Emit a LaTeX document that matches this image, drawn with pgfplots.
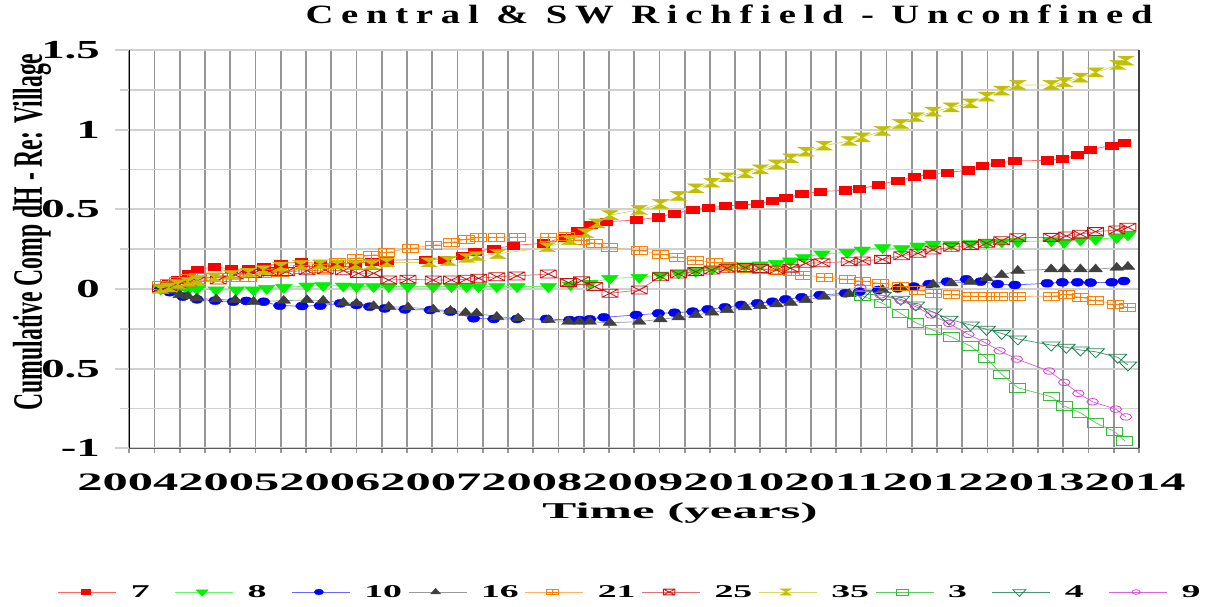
\documentclass[border=0pt]{standalone}
\usepackage{pgfplots}
\pgfplotsset{compat=1.18}
\usepackage{fontspec}
\setmainfont{Liberation Serif}
\usepackage{graphicx}

\definecolor{c7}{HTML}{FF0000}
\definecolor{c8}{HTML}{00F000}
\definecolor{c10}{HTML}{0000FF}
\definecolor{c16}{HTML}{404040}
\definecolor{c21}{HTML}{FF8000}
\definecolor{c25}{HTML}{C81414}
\definecolor{c35}{HTML}{C0C000}
\definecolor{c3}{HTML}{33C033}
\definecolor{c4}{HTML}{1E8050}
\definecolor{c9}{HTML}{D040D0}
\definecolor{hgridcol}{HTML}{D0D0D0}
\definecolor{vgridcol}{HTML}{969696}

\pgfdeclareplotmark{hourglass}{%
  \pgfpathmoveto{\pgfqpoint{-\pgfplotmarksize}{\pgfplotmarksize}}%
  \pgfpathlineto{\pgfqpoint{\pgfplotmarksize}{\pgfplotmarksize}}%
  \pgfpathlineto{\pgfqpoint{-\pgfplotmarksize}{-\pgfplotmarksize}}%
  \pgfpathlineto{\pgfqpoint{\pgfplotmarksize}{-\pgfplotmarksize}}%
  \pgfpathclose
  \pgfusepathqfillstroke}
\pgfdeclareplotmark{boxplus}{%
  \pgfpathrectangle{\pgfqpoint{-\pgfplotmarksize}{-\pgfplotmarksize}}{\pgfqpoint{2\pgfplotmarksize}{2\pgfplotmarksize}}%
  \pgfpathmoveto{\pgfqpoint{-\pgfplotmarksize}{0pt}}\pgfpathlineto{\pgfqpoint{\pgfplotmarksize}{0pt}}%
  \pgfpathmoveto{\pgfqpoint{0pt}{-\pgfplotmarksize}}\pgfpathlineto{\pgfqpoint{0pt}{\pgfplotmarksize}}%
  \pgfusepathqstroke}
\pgfdeclareplotmark{boxtimes}{%
  \pgfpathrectangle{\pgfqpoint{-\pgfplotmarksize}{-\pgfplotmarksize}}{\pgfqpoint{2\pgfplotmarksize}{2\pgfplotmarksize}}%
  \pgfpathmoveto{\pgfqpoint{-\pgfplotmarksize}{-\pgfplotmarksize}}\pgfpathlineto{\pgfqpoint{\pgfplotmarksize}{\pgfplotmarksize}}%
  \pgfpathmoveto{\pgfqpoint{-\pgfplotmarksize}{\pgfplotmarksize}}\pgfpathlineto{\pgfqpoint{\pgfplotmarksize}{-\pgfplotmarksize}}%
  \pgfusepathqstroke}

\newcommand\ylab[1]{\scalebox{1.8}[1]{\fontsize{26}{26}\selectfont\bfseries #1}\hspace*{24.3pt}}
\newcommand\lgd[1]{\scalebox{2.1}[1]{\fontsize{18}{18}\selectfont\bfseries #1}}
\newcommand\xlab{\resizebox{1108pt}{16.7pt}{\bfseries 20042005200620072008200920102011201220132014}}

\begin{document}
\begin{tikzpicture}
% vertical grid (every quarter year) with tick marks below the axis
\foreach \k in {0,...,40} {
  \pgfmathsetmacro{\gx}{129.3+\k*25.2425}
  \draw[draw=vgridcol, line width=1.8pt] (\gx pt,152.7pt) -- (\gx pt,556pt);
}
\begin{axis}[
  at={(129.3pt,157.7pt)}, anchor=south west,
  width=1009.7pt, height=398.3pt, scale only axis,
  xmin=2004, xmax=2014, ymin=-1, ymax=1.5,
  clip=false,
  xtick={2004,2004.25,2004.5,2004.75,2005,2005.25,2005.5,2005.75,2006,2006.25,2006.5,2006.75,2007,2007.25,2007.5,2007.75,2008,2008.25,2008.5,2008.75,2009,2009.25,2009.5,2009.75,2010,2010.25,2010.5,2010.75,2011,2011.25,2011.5,2011.75,2012,2012.25,2012.5,2012.75,2013,2013.25,2013.5,2013.75,2014},
  xticklabels={{},{},{},{},{},{},{},{},{},{},{},{},{},{},{},{},{},{},{},{},\xlab,{},{},{},{},{},{},{},{},{},{},{},{},{},{},{},{},{},{},{},{}},
  xticklabel style={anchor=north, inner sep=0pt, yshift=-20.7pt, xshift=-2.7pt},
  ytick={-1,-0.5,0,0.5,1,1.5},
  yticklabels={\ylab{-1},\ylab{-0.5},\ylab{0},\ylab{0.5},\ylab{1},\ylab{1.5}},
  minor ytick={-0.75,-0.25,0.25,0.75,1.25},
  yticklabel style={anchor=east, inner sep=0pt},
  tick align=outside, major tick length=5pt,
  every tick/.style={draw=none},
  ymajorgrids, yminorgrids,
  every minor grid/.style={draw=hgridcol, line width=1.8pt},
  every major y grid/.style={draw=hgridcol, line width=1.8pt},
  axis line style={draw=none},
  title={\resizebox{847pt}{18.6pt}{\bfseries\addfontfeature{LetterSpace=20}Central \& SW Richfield - Unconfined}},
  title style={at={(axis description cs:0.594,1.0515)}, anchor=base, inner sep=0pt},
  xlabel={\resizebox{275pt}{15.7pt}{\bfseries Time (years)}},
  xlabel style={at={(axis description cs:0.5454,-0.1757)}, anchor=base, inner sep=0pt},
  ylabel={\resizebox{357pt}{29pt}{\bfseries Cumulative Comp dH - Re: Village}},
  ylabel style={at={(axis description cs:-0.0865,0.543)}, anchor=base, inner sep=0pt},
  legend columns=10,
  legend cell align=left,
  legend style={at={(axis description cs:-0.0706,-0.3608)}, anchor=west, draw=none, fill=none,
    inner sep=0pt, outer sep=0pt,
    nodes={inner sep=0pt, text width=44pt, align=left},
    /tikz/every odd column/.append style={column sep=14pt},
    /tikz/every even column/.append style={column sep=0pt}},
  legend image code/.code={
    \draw[#1, mark=none] (0pt,0pt) -- (58pt,0pt);
    \draw[#1, /tikz/every mark/.append style={scale=0.72}] plot coordinates {(27pt,0pt)};
  },
]

% 7
\addplot[color=c7!60!white, line width=0.75pt, mark=square*, mark size=3.6pt,
  mark options={draw=c7, fill=c7, xscale=1.7, line width=0.4pt}] coordinates {
(2004.31,0.01)(2004.39,0.03)(2004.48,0.06)(2004.58,0.095)(2004.67,0.12)(2004.84,0.14)(2005.01,0.124)(2005.18,0.124)(2005.33,0.142)(2005.50,0.161)(2005.70,0.168)(2005.89,0.161)(2006.06,0.157)(2006.24,0.161)(2006.40,0.171)(2006.55,0.18)(2006.93,0.186)(2007.12,0.186)(2007.30,0.21)(2007.42,0.234)(2007.61,0.252)(2007.80,0.273)(2008.10,0.287)(2008.31,0.324)(2008.44,0.366)(2008.57,0.402)(2008.72,0.422)(2009.02,0.433)(2009.24,0.45)(2009.40,0.475)(2009.58,0.496)(2009.73,0.508)(2009.90,0.521)(2010.06,0.527)(2010.22,0.534)(2010.37,0.554)(2010.50,0.571)(2010.66,0.596)(2010.84,0.611)(2011.09,0.62)(2011.23,0.628)(2011.42,0.653)(2011.61,0.682)(2011.77,0.703)(2011.92,0.72)(2012.10,0.732)(2012.31,0.745)(2012.45,0.774)(2012.60,0.791)(2012.77,0.803)(2013.09,0.808)(2013.24,0.816)(2013.39,0.843)(2013.52,0.876)(2013.73,0.9)(2013.85,0.918)};
\addlegendentry{\lgd{7}}

% 8
\addplot[color=c8!60!white, line width=0.75pt, mark=triangle*, mark size=6pt,
  mark options={rotate=180, draw=c8, fill=c8, xscale=1.6, line width=0.4pt}] coordinates {
(2004.31,0.0)(2004.39,0.0)(2004.48,-0.005)(2004.58,-0.005)(2004.67,0.0)(2004.86,-0.006)(2005.06,-0.006)(2005.23,-0.006)(2005.36,0.004)(2005.53,0.01)(2005.76,0.019)(2005.92,0.021)(2006.12,0.019)(2006.25,0.015)(2006.42,0.015)(2006.57,0.015)(2006.76,0.015)(2007.01,0.015)(2007.19,0.015)(2007.34,0.015)(2007.46,0.015)(2007.64,0.015)(2007.84,0.015)(2008.15,0.015)(2008.37,0.025)(2008.56,0.036)(2008.76,0.067)(2009.05,0.073)(2009.26,0.088)(2009.44,0.1)(2009.61,0.11)(2009.77,0.125)(2009.94,0.14)(2010.10,0.145)(2010.25,0.151)(2010.41,0.161)(2010.55,0.176)(2010.68,0.199)(2010.86,0.22)(2011.11,0.23)(2011.26,0.245)(2011.46,0.26)(2011.65,0.253)(2011.81,0.27)(2011.96,0.282)(2012.14,0.28)(2012.33,0.285)(2012.49,0.29)(2012.64,0.295)(2012.80,0.297)(2013.13,0.303)(2013.26,0.293)(2013.42,0.307)(2013.57,0.312)(2013.78,0.322)(2013.89,0.339)};
\addlegendentry{\lgd{8}}

% 10
\addplot[color=c10!60!white, line width=0.75pt, mark=*, mark size=4pt,
  mark options={draw=c10, fill=c10, xscale=1.6, line width=0.4pt}] coordinates {
(2004.31,0.0)(2004.40,-0.02)(2004.53,-0.048)(2004.67,-0.065)(2004.85,-0.073)(2005.03,-0.08)(2005.16,-0.075)(2005.33,-0.08)(2005.49,-0.105)(2005.71,-0.107)(2005.89,-0.105)(2006.09,-0.09)(2006.25,-0.1)(2006.38,-0.111)(2006.53,-0.122)(2006.73,-0.128)(2006.98,-0.132)(2007.18,-0.142)(2007.41,-0.184)(2007.61,-0.188)(2007.84,-0.188)(2008.13,-0.188)(2008.36,-0.195)(2008.46,-0.195)(2008.56,-0.19)(2008.70,-0.178)(2009.02,-0.163)(2009.24,-0.153)(2009.40,-0.149)(2009.58,-0.142)(2009.73,-0.128)(2009.90,-0.115)(2010.06,-0.1)(2010.22,-0.09)(2010.37,-0.08)(2010.50,-0.065)(2010.66,-0.052)(2010.84,-0.038)(2011.09,-0.027)(2011.23,-0.017)(2011.42,-0.006)(2011.61,0.004)(2011.77,0.015)(2011.92,0.031)(2012.10,0.046)(2012.29,0.061)(2012.43,0.046)(2012.60,0.031)(2012.77,0.025)(2013.09,0.036)(2013.24,0.042)(2013.39,0.042)(2013.52,0.04)(2013.73,0.042)(2013.85,0.05)};
\addlegendentry{\lgd{10}}

% 16
\addplot[color=gray!80!white, line width=0.75pt, mark=triangle*, mark size=5.3pt,
  mark options={draw=c16, fill=c16, xscale=1.5, line width=0.4pt}] coordinates {
(2004.31,0.0)(2004.39,-0.012)(2004.50,-0.038)(2004.58,-0.045)(2004.67,-0.059)(2004.86,-0.065)(2005.05,-0.069)(2005.23,-0.08)(2005.53,-0.073)(2005.76,-0.069)(2005.92,-0.073)(2006.12,-0.086)(2006.25,-0.09)(2006.42,-0.107)(2006.57,-0.111)(2006.76,-0.115)(2007.01,-0.128)(2007.18,-0.136)(2007.33,-0.149)(2007.44,-0.153)(2007.64,-0.174)(2007.85,-0.184)(2008.15,-0.195)(2008.35,-0.205)(2008.46,-0.205)(2008.56,-0.205)(2008.76,-0.212)(2009.05,-0.205)(2009.26,-0.19)(2009.44,-0.178)(2009.61,-0.163)(2009.77,-0.147)(2009.92,-0.132)(2010.10,-0.115)(2010.25,-0.107)(2010.41,-0.096)(2010.55,-0.086)(2010.70,-0.069)(2010.88,-0.048)(2011.13,-0.031)(2011.46,-0.006)(2011.64,0.01)(2011.96,0.028)(2012.14,0.036)(2012.33,0.046)(2012.49,0.067)(2012.64,0.088)(2012.80,0.115)(2013.13,0.124)(2013.26,0.124)(2013.42,0.124)(2013.57,0.124)(2013.78,0.134)(2013.89,0.14)};
\addlegendentry{\lgd{16}}

% 21
\addplot[color=c21!60!white, line width=0.75pt, mark=boxplus, mark size=4pt,
  mark options={draw=c21, xscale=2, line width=0.8pt}] coordinates {
(2004.31,0.02)(2004.39,0.035)(2004.48,0.05)(2004.58,0.065)(2004.67,0.07)(2004.84,0.07)(2005.01,0.07)(2005.18,0.075)(2005.33,0.098)(2005.50,0.105)(2005.70,0.124)(2005.89,0.13)(2006.06,0.165)(2006.24,0.193)(2006.40,0.213)(2006.55,0.23)(2006.78,0.255)(2007.01,0.276)(2007.19,0.293)(2007.34,0.312)(2007.46,0.322)(2007.64,0.324)(2007.84,0.324)(2008.15,0.324)(2008.33,0.328)(2008.48,0.307)(2008.61,0.287)(2008.75,0.262)(2009.05,0.241)(2009.26,0.22)(2009.43,0.199)(2009.61,0.182)(2009.79,0.165)(2009.94,0.14)(2010.10,0.13)(2010.25,0.124)(2010.43,0.115)(2010.56,0.109)(2010.68,0.088)(2010.88,0.073)(2011.11,0.061)(2011.26,0.05)(2011.44,0.036)(2011.64,0.015)(2011.81,-0.006)(2011.96,-0.027)(2012.14,-0.037)(2012.33,-0.044)(2012.49,-0.048)(2012.62,-0.048)(2012.80,-0.048)(2013.13,-0.044)(2013.28,-0.037)(2013.42,-0.052)(2013.57,-0.073)(2013.77,-0.094)(2013.89,-0.115)};
\addlegendentry{\lgd{21}}

% 25
\addplot[color=c25!60!white, line width=0.75pt, mark=boxtimes, mark size=4pt,
  mark options={draw=c25, xscale=2, line width=0.8pt}] coordinates {
(2004.31,0.005)(2004.39,0.015)(2004.48,0.03)(2004.58,0.04)(2004.67,0.05)(2004.88,0.056)(2005.05,0.088)(2005.23,0.098)(2005.39,0.109)(2005.56,0.109)(2005.76,0.115)(2005.94,0.119)(2006.12,0.115)(2006.27,0.098)(2006.42,0.098)(2006.57,0.056)(2006.76,0.061)(2007.01,0.056)(2007.19,0.056)(2007.34,0.061)(2007.46,0.067)(2007.64,0.077)(2007.84,0.082)(2008.15,0.094)(2008.35,0.04)(2008.48,0.052)(2008.61,0.015)(2008.76,-0.027)(2009.05,-0.006)(2009.26,0.077)(2009.44,0.094)(2009.61,0.109)(2009.77,0.119)(2009.92,0.13)(2010.10,0.134)(2010.25,0.128)(2010.41,0.119)(2010.55,0.13)(2010.70,0.161)(2010.86,0.165)(2011.13,0.171)(2011.26,0.176)(2011.46,0.186)(2011.65,0.209)(2011.81,0.224)(2011.96,0.245)(2012.14,0.262)(2012.33,0.272)(2012.49,0.287)(2012.64,0.303)(2012.80,0.322)(2013.13,0.324)(2013.28,0.333)(2013.42,0.344)(2013.57,0.36)(2013.78,0.37)(2013.89,0.387)};
\addlegendentry{\lgd{25}}

% 35
\addplot[color=c35!60!white, line width=0.75pt, mark=hourglass, mark size=4.5pt,
  mark options={draw=c35, fill=c35, xscale=1.8, line width=0.4pt}] coordinates {
(2004.31,0.0)(2004.39,0.01)(2004.48,0.03)(2004.58,0.045)(2004.67,0.056)(2004.84,0.073)(2005.01,0.088)(2005.18,0.102)(2005.33,0.119)(2005.50,0.14)(2005.70,0.151)(2005.89,0.155)(2006.06,0.155)(2006.24,0.151)(2006.40,0.151)(2006.55,0.167)(2006.97,0.167)(2007.16,0.176)(2007.34,0.196)(2007.44,0.207)(2007.65,0.22)(2008.14,0.262)(2008.36,0.307)(2008.52,0.35)(2008.63,0.412)(2008.76,0.464)(2009.05,0.496)(2009.26,0.534)(2009.44,0.584)(2009.61,0.632)(2009.77,0.667)(2009.92,0.701)(2010.10,0.726)(2010.25,0.751)(2010.41,0.782)(2010.55,0.82)(2010.70,0.862)(2010.88,0.9)(2011.13,0.929)(2011.26,0.952)(2011.46,0.992)(2011.64,1.036)(2011.79,1.078)(2011.96,1.113)(2012.14,1.14)(2012.33,1.165)(2012.49,1.207)(2012.64,1.245)(2012.80,1.281)(2013.13,1.281)(2013.26,1.298)(2013.42,1.327)(2013.57,1.36)(2013.79,1.406)(2013.87,1.433)};
\addlegendentry{\lgd{35}}

% 3
\addplot[color=c3!80!white, line width=0.75pt, mark=square, mark size=4.2pt,
  mark options={draw=c3, xscale=1.9, line width=0.9pt}] coordinates {
(2011.26,-0.044)(2011.46,-0.09)(2011.64,-0.153)(2011.79,-0.212)(2011.96,-0.258)(2012.14,-0.3)(2012.33,-0.358)(2012.49,-0.435)(2012.64,-0.536)(2012.80,-0.62)(2013.13,-0.676)(2013.26,-0.735)(2013.42,-0.777)(2013.57,-0.84)(2013.76,-0.896)(2013.86,-0.954)};
\addlegendentry{\lgd{3}}

% 4
\addplot[color=c4!80!white, line width=0.75pt, mark=triangle, mark size=6pt,
  mark options={rotate=180, draw=c4, xscale=1.7, line width=0.8pt}] coordinates {
(2011.26,-0.03)(2011.46,-0.04)(2011.64,-0.065)(2011.79,-0.1)(2011.96,-0.145)(2012.12,-0.19)(2012.33,-0.226)(2012.49,-0.253)(2012.64,-0.279)(2012.80,-0.314)(2013.13,-0.352)(2013.28,-0.366)(2013.42,-0.383)(2013.57,-0.394)(2013.79,-0.429)(2013.89,-0.477)};
\addlegendentry{\lgd{4}}

% 9
\addplot[color=c9!80!white, line width=0.75pt, mark=o, mark size=3.2pt,
  mark options={draw=c9, xscale=1.8, line width=0.8pt}] coordinates {
(2011.24,0.01)(2011.44,-0.037)(2011.64,-0.073)(2011.79,-0.111)(2011.94,-0.163)(2012.12,-0.216)(2012.31,-0.285)(2012.47,-0.335)(2012.62,-0.388)(2012.79,-0.44)(2013.11,-0.515)(2013.26,-0.586)(2013.40,-0.655)(2013.54,-0.708)(2013.77,-0.754)(2013.87,-0.803)};
\addlegendentry{\lgd{9}}

% axis lines and outer y ticks
\draw[black, line width=1.5pt] (rel axis cs:0,0) -- (rel axis cs:0,1);
\draw[c16!85!white, line width=1.5pt] (rel axis cs:0,0) -- (rel axis cs:1,0);
\draw[c16, line width=1.5pt] (rel axis cs:1,0) -- (rel axis cs:1,1);
\pgfplotsinvokeforeach{-1,-0.5,0,0.5,1,1.5}{\draw[hgridcol, line width=1.8pt] (axis cs:2004,#1) -- ++(-14pt,0pt);}
\pgfplotsinvokeforeach{-0.75,-0.25,0.25,0.75,1.25}{\draw[hgridcol, line width=1.8pt] (axis cs:2004,#1) -- ++(-9pt,0pt);}
\end{axis}
\pgfresetboundingbox
\useasboundingbox (0,0) rectangle (1212pt,606pt);
\end{tikzpicture}
\end{document}
